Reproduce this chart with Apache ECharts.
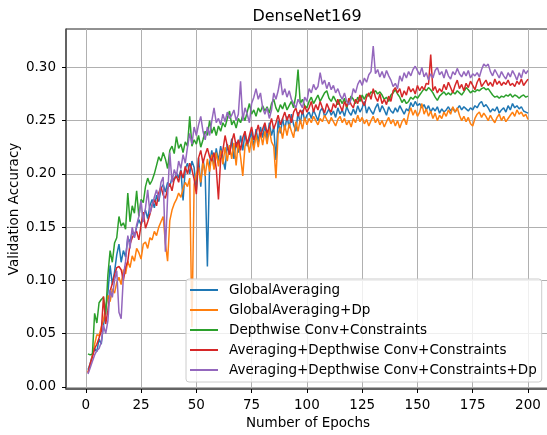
<!DOCTYPE html>
<html>
<head>
<meta charset="utf-8">
<script src="https://cdn.jsdelivr.net/npm/echarts@6/dist/echarts.min.js"></script>
<style>
html, body { margin: 0; padding: 0; background: #fff; }
#chart { width: 547px; height: 435px; }
</style>
</head>
<body>
<div id="chart"></div>
<script>
var seriesNames = ['GlobalAveraging', 'GlobalAveraging+Dp', 'Depthwise Conv+Constraints',
	'Averaging+Depthwise Conv+Constraints', 'Averaging+Depthwise Conv+Constraints+Dp'];
var seriesColors = ['#1f77b4', '#ff7f0e', '#2ca02c', '#d62728', '#9467bd'];
var xTicks = [0, 25, 50, 75, 100, 125, 150, 175, 200];
var yTicks = [0, 0.05, 0.10, 0.15, 0.20, 0.25, 0.30];

var globalAvg = [
	0.016, 0.022, 0.030, 0.036, 0.033, 0.045, 0.040, 0.058, 0.072, 0.088,
	0.114, 0.096, 0.108, 0.124, 0.134, 0.117, 0.128, 0.122, 0.140, 0.136,
	0.146, 0.141, 0.150, 0.157, 0.152, 0.160, 0.166, 0.158, 0.170, 0.176,
	0.168, 0.180, 0.174, 0.186, 0.190, 0.183, 0.192, 0.188, 0.197, 0.194,
	0.201, 0.196, 0.204, 0.175, 0.205, 0.210, 0.200, 0.212, 0.206, 0.185,
	0.215, 0.188, 0.214, 0.200, 0.113, 0.210, 0.222, 0.205, 0.224, 0.212,
	0.226, 0.214, 0.204, 0.228, 0.218, 0.233, 0.214, 0.230, 0.220, 0.236,
	0.222, 0.238, 0.226, 0.232, 0.240, 0.225, 0.242, 0.230, 0.244, 0.234,
	0.246, 0.232, 0.248, 0.236, 0.244, 0.213, 0.250, 0.238, 0.252, 0.241,
	0.254, 0.243, 0.256, 0.246, 0.240, 0.258, 0.247, 0.260, 0.250, 0.255,
	0.258, 0.252, 0.260, 0.255, 0.250, 0.259, 0.262, 0.254, 0.257, 0.261,
	0.255, 0.259, 0.253, 0.262, 0.256, 0.260, 0.254, 0.263, 0.258, 0.255,
	0.261, 0.256, 0.264, 0.258, 0.262, 0.268, 0.257, 0.263, 0.259, 0.256,
	0.262, 0.266, 0.258, 0.264, 0.260, 0.255, 0.263, 0.259, 0.257, 0.262,
	0.258, 0.264, 0.260, 0.256, 0.261, 0.259, 0.267, 0.263, 0.268, 0.264,
	0.266, 0.262, 0.265, 0.260, 0.264, 0.258, 0.262, 0.259, 0.263, 0.257,
	0.261, 0.258, 0.260, 0.263, 0.259, 0.262, 0.258, 0.261, 0.264, 0.260,
	0.263, 0.261, 0.259, 0.262, 0.260, 0.264, 0.262, 0.266, 0.268, 0.263,
	0.265, 0.262, 0.258, 0.261, 0.259, 0.263, 0.257, 0.260, 0.262, 0.258,
	0.264, 0.260, 0.266, 0.262, 0.264, 0.261, 0.263, 0.259, 0.258, 0.257
];
var globalAvgDp = [
	0.014, 0.020, 0.030, 0.040, 0.049, 0.048, 0.056, 0.063, 0.075, 0.086,
	0.080, 0.092, 0.088, 0.098, 0.103, 0.096, 0.110, 0.106, 0.118, 0.112,
	0.123, 0.118, 0.130, 0.126, 0.120, 0.134, 0.136, 0.130, 0.140, 0.138,
	0.146, 0.142, 0.150, 0.155, 0.160, 0.135, 0.118, 0.156, 0.166, 0.172,
	0.176, 0.182, 0.178, 0.186, 0.192, 0.188, 0.196, 0.056, 0.190, 0.200,
	0.206, 0.192, 0.212, 0.198, 0.214, 0.202, 0.218, 0.204, 0.220, 0.207,
	0.222, 0.209, 0.225, 0.212, 0.227, 0.214, 0.229, 0.208, 0.231, 0.216,
	0.198, 0.226, 0.232, 0.220, 0.234, 0.222, 0.237, 0.225, 0.239, 0.227,
	0.240, 0.228, 0.242, 0.230, 0.226, 0.196, 0.238, 0.244, 0.233, 0.246,
	0.236, 0.247, 0.240, 0.234, 0.249, 0.240, 0.251, 0.242, 0.253, 0.246,
	0.252, 0.248, 0.254, 0.250, 0.246, 0.252, 0.249, 0.255, 0.251, 0.247,
	0.253, 0.249, 0.245, 0.251, 0.254, 0.248, 0.252, 0.246, 0.250, 0.244,
	0.252, 0.248, 0.255, 0.249, 0.253, 0.247, 0.251, 0.245, 0.250, 0.254,
	0.248, 0.252, 0.246, 0.250, 0.244, 0.249, 0.253, 0.247, 0.251, 0.245,
	0.250, 0.243, 0.249, 0.252, 0.246, 0.256, 0.262, 0.255, 0.260, 0.254,
	0.258, 0.266, 0.256, 0.261, 0.254, 0.259, 0.252, 0.257, 0.250, 0.255,
	0.252, 0.258, 0.254, 0.260, 0.256, 0.263, 0.258, 0.262, 0.255, 0.250,
	0.254, 0.249, 0.253, 0.247, 0.245, 0.252, 0.256, 0.258, 0.253, 0.257,
	0.254, 0.250, 0.255, 0.251, 0.248, 0.253, 0.256, 0.250, 0.254, 0.249,
	0.252, 0.255, 0.258, 0.254, 0.260, 0.256, 0.258, 0.254, 0.256, 0.251
];
var depthwise = [
	0.031, 0.030, 0.031, 0.069, 0.060, 0.079, 0.082, 0.084, 0.068, 0.105,
	0.128, 0.117, 0.135, 0.140, 0.160, 0.151, 0.154, 0.148, 0.182, 0.155,
	0.170, 0.163, 0.184, 0.160, 0.176, 0.173, 0.188, 0.196, 0.190, 0.194,
	0.200, 0.208, 0.216, 0.212, 0.220, 0.214, 0.205, 0.222, 0.226, 0.219,
	0.235, 0.224, 0.228, 0.220, 0.230, 0.226, 0.254, 0.226, 0.232, 0.228,
	0.236, 0.225, 0.232, 0.240, 0.236, 0.250, 0.238, 0.244, 0.236, 0.245,
	0.240, 0.248, 0.244, 0.252, 0.259, 0.246, 0.250, 0.243, 0.252, 0.248,
	0.255, 0.250, 0.258, 0.266, 0.256, 0.260, 0.254, 0.262, 0.258, 0.264,
	0.259, 0.263, 0.257, 0.266, 0.270, 0.262, 0.258, 0.265, 0.261, 0.267,
	0.260, 0.264, 0.268, 0.262, 0.274, 0.298, 0.266, 0.270, 0.264, 0.262,
	0.268, 0.272, 0.266, 0.270, 0.274, 0.268, 0.272, 0.276, 0.278, 0.271,
	0.268, 0.273, 0.269, 0.265, 0.270, 0.266, 0.271, 0.262, 0.268, 0.273,
	0.270, 0.266, 0.272, 0.268, 0.274, 0.270, 0.275, 0.273, 0.277, 0.276,
	0.278, 0.275, 0.277, 0.274, 0.270, 0.272, 0.268, 0.274, 0.276, 0.279,
	0.275, 0.272, 0.267, 0.270, 0.266, 0.268, 0.272, 0.270, 0.273, 0.271,
	0.274, 0.277, 0.280, 0.278, 0.281, 0.279, 0.276, 0.272, 0.269, 0.273,
	0.275, 0.277, 0.274, 0.276, 0.274, 0.277, 0.275, 0.278, 0.276, 0.274,
	0.277, 0.281, 0.279, 0.276, 0.278, 0.277, 0.279, 0.278, 0.280, 0.281,
	0.279, 0.280, 0.277, 0.274, 0.272, 0.273, 0.271, 0.273, 0.272, 0.274,
	0.273, 0.275, 0.272, 0.274, 0.273, 0.271, 0.273, 0.274, 0.272, 0.273
];
var avgDepthwise = [
	0.013, 0.022, 0.028, 0.036, 0.040, 0.046, 0.052, 0.085, 0.059, 0.072,
	0.090, 0.097, 0.105, 0.112, 0.113, 0.110, 0.100, 0.112, 0.118, 0.134,
	0.140, 0.144, 0.146, 0.138, 0.152, 0.164, 0.149, 0.155, 0.162, 0.171,
	0.176, 0.170, 0.182, 0.188, 0.180, 0.177, 0.186, 0.191, 0.184, 0.195,
	0.198, 0.192, 0.203, 0.196, 0.207, 0.200, 0.210, 0.204, 0.195, 0.181,
	0.215, 0.222, 0.210, 0.218, 0.224, 0.216, 0.212, 0.220, 0.205, 0.176,
	0.214, 0.222, 0.236, 0.226, 0.218, 0.230, 0.238, 0.225, 0.232, 0.222,
	0.234, 0.240, 0.228, 0.236, 0.244, 0.232, 0.238, 0.246, 0.235, 0.242,
	0.248, 0.238, 0.244, 0.252, 0.242, 0.248, 0.255, 0.246, 0.252, 0.258,
	0.250, 0.256, 0.248, 0.258, 0.262, 0.254, 0.260, 0.256, 0.264, 0.258,
	0.262, 0.268, 0.258, 0.265, 0.260, 0.268, 0.262, 0.257, 0.266, 0.261,
	0.258, 0.266, 0.262, 0.270, 0.264, 0.259, 0.268, 0.263, 0.271, 0.265,
	0.262, 0.270, 0.266, 0.274, 0.268, 0.264, 0.272, 0.276, 0.270, 0.280,
	0.272, 0.268, 0.275, 0.266, 0.270, 0.265, 0.273, 0.268, 0.278, 0.281,
	0.276, 0.280, 0.272, 0.278, 0.274, 0.282, 0.277, 0.280, 0.275, 0.283,
	0.278, 0.282, 0.279, 0.285, 0.284, 0.312, 0.278, 0.282, 0.276, 0.280,
	0.277, 0.284, 0.279, 0.286, 0.281, 0.276, 0.283, 0.288, 0.280, 0.284,
	0.278, 0.285, 0.281, 0.287, 0.283, 0.279, 0.286, 0.290, 0.282, 0.285,
	0.288, 0.283, 0.286, 0.282, 0.289, 0.284, 0.287, 0.283, 0.286, 0.284,
	0.288, 0.283, 0.285, 0.282, 0.287, 0.284, 0.289, 0.283, 0.286, 0.289
];
var avgDepthwiseDp = [
	0.012, 0.018, 0.024, 0.030, 0.034, 0.036, 0.042, 0.058, 0.050, 0.062,
	0.091, 0.084, 0.100, 0.109, 0.070, 0.064, 0.104, 0.118, 0.142, 0.130,
	0.150, 0.140, 0.152, 0.160, 0.175, 0.155, 0.168, 0.185, 0.163, 0.170,
	0.178, 0.185, 0.176, 0.192, 0.197, 0.127, 0.178, 0.220, 0.192, 0.204,
	0.198, 0.212, 0.205, 0.218, 0.210, 0.225, 0.238, 0.228, 0.244, 0.236,
	0.246, 0.254, 0.240, 0.232, 0.244, 0.236, 0.250, 0.262, 0.248, 0.252,
	0.246, 0.256, 0.249, 0.258, 0.252, 0.255, 0.260, 0.250, 0.256, 0.287,
	0.250, 0.262, 0.256, 0.248, 0.266, 0.272, 0.280, 0.270, 0.276, 0.262,
	0.256, 0.262, 0.252, 0.260, 0.276, 0.270, 0.278, 0.290, 0.274, 0.280,
	0.272, 0.278, 0.270, 0.266, 0.262, 0.270, 0.266, 0.262, 0.272, 0.268,
	0.280, 0.276, 0.284, 0.279, 0.282, 0.295, 0.284, 0.288, 0.280, 0.286,
	0.279, 0.283, 0.276, 0.280, 0.274, 0.270, 0.276, 0.268, 0.265, 0.270,
	0.280, 0.276, 0.284, 0.288, 0.283, 0.290, 0.286, 0.293, 0.296, 0.320,
	0.294, 0.298, 0.291, 0.296, 0.290, 0.297, 0.292, 0.288, 0.282, 0.285,
	0.280, 0.292, 0.287, 0.295, 0.290, 0.296, 0.292, 0.298, 0.301, 0.297,
	0.293, 0.300, 0.291, 0.295, 0.288, 0.294, 0.290, 0.297, 0.300, 0.293,
	0.296, 0.290, 0.298, 0.292, 0.289, 0.296, 0.293, 0.299, 0.294, 0.291,
	0.296, 0.292, 0.297, 0.290, 0.294, 0.292, 0.295, 0.291, 0.298, 0.303,
	0.301, 0.303, 0.296, 0.292, 0.298, 0.294, 0.290, 0.296, 0.292, 0.289,
	0.295, 0.291, 0.297, 0.293, 0.288, 0.295, 0.290, 0.298, 0.294, 0.297
];

var font = 'DejaVu Sans';

function withEpochs(values) {
	var out = [];
	for (var i = 0; i < values.length; i++) {
		out.push([i + 1, values[i]]);
	}
	return out;
}

function makeSeries(name, color, values) {
	return {
		name: name,
		type: 'line',
		data: withEpochs(values),
		symbol: 'none',
		animation: false,
		lineStyle: {color: color, width: 1.5},
		itemStyle: {color: color}
	};
}

var allValues = [globalAvg, globalAvgDp, depthwise, avgDepthwise, avgDepthwiseDp];
var series = [];
for (var s = 0; s < seriesNames.length; s++) {
	series.push(makeSeries(seriesNames[s], seriesColors[s], allValues[s]));
}

var chart = echarts.init(document.getElementById('chart'), null, {renderer: 'canvas'});
chart.setOption({
	animation: false,
	backgroundColor: '#ffffff',
	title: {
		text: 'DenseNet169',
		left: 302,
		top: 4,
		textAlign: 'center',
		textStyle: {fontFamily: font, fontSize: 16, fontWeight: 'normal', color: '#000'}
	},
	grid: {
		left: 66, top: 29, width: 484, height: 360,
		show: true, borderColor: '#222', borderWidth: 1,
		containLabel: false,
		outerBoundsMode: 'none'
	},
	legend: {
		orient: 'vertical',
		left: 186,
		top: 279,
		padding: [4, 5, 5, 4],
		itemWidth: 28,
		itemHeight: 2,
		itemGap: 6,
		icon: 'rect',
		backgroundColor: 'rgba(255,255,255,0.8)',
		borderColor: '#cccccc',
		borderWidth: 1,
		borderRadius: 3,
		textStyle: {fontFamily: font, fontSize: 13.5, color: '#000', lineHeight: 14, padding: [0, 0, 0, 6]},
		data: seriesNames
	},
	xAxis: {
		type: 'value',
		min: -8.95,
		max: 209.95,
		name: 'Number of Epochs',
		nameLocation: 'middle',
		nameGap: 26,
		nameTextStyle: {fontFamily: font, fontSize: 13.5, color: '#000'},
		axisLine: {show: true, onZero: false, lineStyle: {color: '#555', width: 1.5}},
		axisTick: {show: true, length: 4, customValues: xTicks, lineStyle: {color: '#000'}},
		axisLabel: {customValues: xTicks, margin: 9, fontFamily: font, fontSize: 13.5, color: '#000'},
		splitLine: {show: true, lineStyle: {color: '#b0b0b0', width: 1}}
	},
	yAxis: {
		type: 'value',
		min: -0.002,
		max: 0.336,
		name: 'Validation Accuracy',
		nameLocation: 'middle',
		nameGap: 45,
		nameMoveOverlap: false,
		nameTextStyle: {fontFamily: font, fontSize: 13.5, color: '#000'},
		axisLine: {show: true, onZero: false, lineStyle: {color: '#555', width: 1.5}},
		axisTick: {show: true, length: 4, customValues: yTicks, lineStyle: {color: '#000'}},
		axisLabel: {
			customValues: yTicks, margin: 10, fontFamily: font, fontSize: 13.5, color: '#000',
			formatter: function(v) { return v.toFixed(2); }
		},
		splitLine: {show: true, lineStyle: {color: '#b0b0b0', width: 1}}
	},
	series: series
});
</script>
</body>
</html>
